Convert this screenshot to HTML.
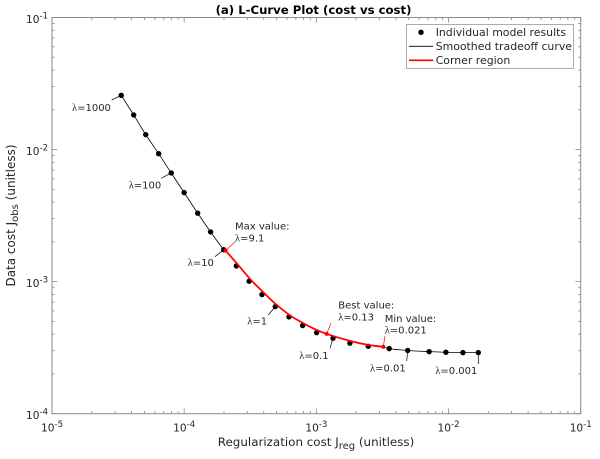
<!DOCTYPE html>
<html lang="en">
<head>
<meta charset="utf-8">
<title>L-Curve Plot</title>
<style>
html,body{margin:0;padding:0;background:#fff;width:600px;height:459px;overflow:hidden}
svg{display:block}
text{font-family:"DejaVu Sans","Liberation Sans",sans-serif;fill:#262626}
.lam{font-family:"Liberation Serif","DejaVu Serif",serif}
</style>
</head>
<body>
<svg id="chart" xmlns="http://www.w3.org/2000/svg" width="600" height="459" viewBox="0 0 600 459">
  <rect x="0" y="0" width="600" height="459" fill="#fff"/>
  <text x="313.5" y="14" text-anchor="middle" font-size="11.7" font-weight="bold" style="fill:#000">(a) L-Curve Plot (cost vs cost)</text>
  <text x="316" y="446" text-anchor="middle" font-size="11.9">Regularization cost J<tspan dy="3" font-size="10">reg</tspan><tspan dy="-3"> (unitless)</tspan></text>
  <text transform="translate(15,215.5) rotate(-90)" text-anchor="middle" font-size="12">Data cost J<tspan dy="3" font-size="10">obs</tspan><tspan dy="-3"> (unitless)</tspan></text>
  <g id="axes"></g>
  <g id="marks"></g>
  <g id="notes"></g>
  <g>
    <rect x="406.5" y="24.5" width="167" height="44" fill="#fff" stroke="#999" stroke-width="0.8"/>
    <circle cx="421" cy="32.3" r="2.7" fill="#000"/>
    <text x="435.7" y="36" font-size="10.9">Individual model results</text>
    <line x1="409" x2="433.3" y1="46.3" y2="46.3" stroke="#000" stroke-width="0.8"/>
    <text x="435.7" y="50" font-size="10.9">Smoothed tradeoff curve</text>
    <line x1="409" x2="433.3" y1="60.3" y2="60.3" stroke="#f00" stroke-width="1.6"/>
    <text x="435.7" y="64" font-size="10.9">Corner region</text>
  </g>
</svg>
<script>
const xTickExponents = [-5, -4, -3, -2, -1];
const yTickExponents = [-4, -3, -2, -1];
const regCost = [3.34e-5,4.15e-5,5.12e-5,6.41e-5,7.98e-5,1.00e-4,1.265e-4,1.585e-4,1.99e-4,2.48e-4,3.10e-4,3.88e-4,4.89e-4,6.21e-4,7.87e-4,1.005e-3,1.337e-3,1.795e-3,2.47e-3,3.56e-3,4.91e-3,7.14e-3,9.55e-3,1.285e-2,1.68e-2];
const dataCost = [.02576,.01828,.01297,.00931,.00665,.00472,.0033,.00238,.001746,.001315,.001007,7.98e-4,6.47e-4,5.41e-4,4.65e-4,4.11e-4,3.73e-4,3.42e-4,3.24e-4,3.11e-4,3.01e-4,2.95e-4,2.92e-4,2.90e-4,2.90e-4];
const cornerReg = [2.06e-4,2.58e-4,3.20e-4,4.02e-4,4.91e-4,6.21e-4,7.52e-4,9.42e-4,1.197e-3,1.795e-3,2.45e-3,3.21e-3];
const cornerData = [1.717e-3,1.327e-3,1.03e-3,8.21e-4,6.78e-4,5.62e-4,5.0e-4,4.44e-4,4.02e-4,3.56e-4,3.32e-4,3.21e-4];
const smoothHeadCount = 9;
const smoothTailStart = 19;
const cornerMaxIndex = 0;
const cornerBestIndex = 8;
const cornerMinIndex = 11;

const NS = 'http://www.w3.org/2000/svg';
const plotLeft = 52, plotRight = 580.7, plotTop = 17.5, plotBottom = 413.7;
const xMinExp = -5, xMaxExp = -1, yMinExp = -4, yMaxExp = -1;
function xScale(v) { return plotLeft + (Math.log10(v) - xMinExp) / (xMaxExp - xMinExp) * (plotRight - plotLeft); }
function yScale(v) { return plotBottom - (Math.log10(v) - yMinExp) / (yMaxExp - yMinExp) * (plotBottom - plotTop); }

function add(parent, tag, name, attrs) {
  const el = document.createElementNS(NS, tag);
  
  
  for (const k in attrs) el.setAttribute(k, attrs[k]);
  parent.appendChild(el);
  return el;
}
function span(parent, text, attrs) {
  const t = document.createElementNS(NS, 'tspan');
  for (const k in attrs) t.setAttribute(k, attrs[k]);
  t.textContent = text;
  parent.appendChild(t);
  return t;
}

const axes = document.getElementById('axes');
const marks = document.getElementById('marks');
const notes = document.getElementById('notes');
const axisColor = '#8a8a8a';

add(axes, 'rect', 'plot-box', {x: plotLeft, y: plotTop, width: plotRight - plotLeft, height: plotBottom - plotTop, fill: 'none', stroke: axisColor, 'stroke-width': 1});

function tick(name, x1, y1, x2, y2) {
  add(axes, 'line', name, {x1: x1, y1: y1, x2: x2, y2: y2, stroke: axisColor, 'stroke-width': 0.8});
}
const majorLen = 5.3, minorLen = 2.6;
xTickExponents.forEach(function (e) {
  const px = xScale(Math.pow(10, e));
  tick('x-major-tick', px, plotBottom, px, plotBottom - majorLen);
  tick('x-major-tick-top', px, plotTop, px, plotTop + majorLen);
  const label = add(axes, 'text', 'x-tick-label', {x: px - 11, y: 431.5, 'font-size': 10.6});
  span(label, '10', {});
  span(label, String(e), {dy: -4.5, 'font-size': 8.6});
  if (e < xMaxExp) {
    for (let m = 2; m < 10; m++) {
      const q = xScale(m * Math.pow(10, e));
      tick('x-minor-tick', q, plotBottom, q, plotBottom - minorLen);
      tick('x-minor-tick-top', q, plotTop, q, plotTop + minorLen);
    }
  }
});
yTickExponents.forEach(function (e) {
  const py = yScale(Math.pow(10, e));
  tick('y-major-tick', plotLeft, py, plotLeft + majorLen, py);
  tick('y-major-tick-right', plotRight, py, plotRight - majorLen, py);
  const label = add(axes, 'text', 'y-tick-label', {x: 26, y: py + 5.5, 'font-size': 10.6});
  span(label, '10', {});
  span(label, String(e), {dy: -4.5, 'font-size': 8.6});
  if (e < yMaxExp) {
    for (let m = 2; m < 10; m++) {
      const q = yScale(m * Math.pow(10, e));
      tick('y-minor-tick', plotLeft, q, plotLeft + minorLen, q);
      tick('y-minor-tick-right', plotRight, q, plotRight - minorLen, q);
    }
  }
});

function smoothPath(xs, ys) {
  const pts = xs.map(function (v, i) { return [xScale(v), yScale(ys[i])]; });
  let d = 'M' + pts[0][0].toFixed(2) + ' ' + pts[0][1].toFixed(2);
  for (let i = 0; i < pts.length - 1; i++) {
    const p0 = pts[Math.max(0, i - 1)], p1 = pts[i], p2 = pts[i + 1], p3 = pts[Math.min(pts.length - 1, i + 2)];
    const c1x = p1[0] + (p2[0] - p0[0]) / 6, c1y = p1[1] + (p2[1] - p0[1]) / 6;
    const c2x = p2[0] - (p3[0] - p1[0]) / 6, c2y = p2[1] - (p3[1] - p1[1]) / 6;
    d += ' C' + c1x.toFixed(2) + ' ' + c1y.toFixed(2) + ' ' + c2x.toFixed(2) + ' ' + c2y.toFixed(2) + ' ' + p2[0].toFixed(2) + ' ' + p2[1].toFixed(2);
  }
  return d;
}
const headX = regCost.slice(0, smoothHeadCount).concat(cornerReg.slice(0, 1));
const headY = dataCost.slice(0, smoothHeadCount).concat(cornerData.slice(0, 1));
const tailX = cornerReg.slice(-1).concat(regCost.slice(smoothTailStart));
const tailY = cornerData.slice(-1).concat(dataCost.slice(smoothTailStart));
add(marks, 'path', 'smoothed-curve-upper', {d: smoothPath(headX, headY), fill: 'none', stroke: '#000', 'stroke-width': 0.8});
add(marks, 'path', 'smoothed-curve-lower', {d: smoothPath(tailX, tailY), fill: 'none', stroke: '#000', 'stroke-width': 0.8});
regCost.forEach(function (v, i) {
  add(marks, 'circle', 'model-result-point', {cx: xScale(v), cy: yScale(dataCost[i]), r: 2.7, fill: '#000'});
});
add(marks, 'path', 'corner-region-curve', {d: smoothPath(cornerReg, cornerData), fill: 'none', stroke: '#f00', 'stroke-width': 1.7});

function lines(name, textX, baseYs, rows) {
  rows.forEach(function (row, i) {
    const t = add(notes, 'text', name, {x: textX, y: baseYs[i], 'font-size': 10});
    if (row.charAt(0) === 'λ') {
      span(t, 'λ', {class: 'lam', 'font-size': 10.5});
      span(t, row.slice(1), {});
    } else {
      span(t, row, {});
    }
  });
}
function note(name, index, ex, ey, textX, textY, text) {
  add(notes, 'line', name + '-leader', {x1: xScale(regCost[index]), y1: yScale(dataCost[index]), x2: ex, y2: ey, stroke: '#000', 'stroke-width': 0.7});
  lines(name + '-label', textX, [textY], [text]);
}
note('lambda-1000', 0, 111.7, 100, 72, 111, 'λ=1000');
note('lambda-100', 4, 161.3, 178.3, 128.7, 188.7, 'λ=100');
note('lambda-10', 8, 215, 256.7, 187.7, 266, 'λ=10');
note('lambda-1', 12, 268.3, 315, 247.3, 324.7, 'λ=1');
note('lambda-0.1', 16, 330, 348.3, 299.3, 359, 'λ=0.1');
note('lambda-0.01', 20, 406.7, 361, 370, 371.7, 'λ=0.01');
note('lambda-0.001', 24, 478.3, 364, 435.3, 374, 'λ=0.001');

function special(name, index, ex, ey, textX, y1, y2, head, value) {
  const px = xScale(cornerReg[index]), py = yScale(cornerData[index]);
  add(notes, 'line', name + '-leader', {x1: px, y1: py, x2: ex, y2: ey, stroke: '#f00', 'stroke-width': 0.7});
  add(notes, 'circle', name + '-marker', {cx: px, cy: py, r: 2, fill: '#f00'});
  lines(name + '-label', textX, [y1, y2], [head, value]);
}
special('max-value', cornerMaxIndex, 235, 241.7, 235, 229.5, 241.7, 'Max value:', 'λ=9.1');
special('best-value', cornerBestIndex, 331, 323, 338.3, 308.7, 320.7, 'Best value:', 'λ=0.13');
special('min-value', cornerMinIndex, 385, 336, 384.7, 322, 333.7, 'Min value:', 'λ=0.021');
</script>
</body>
</html>
